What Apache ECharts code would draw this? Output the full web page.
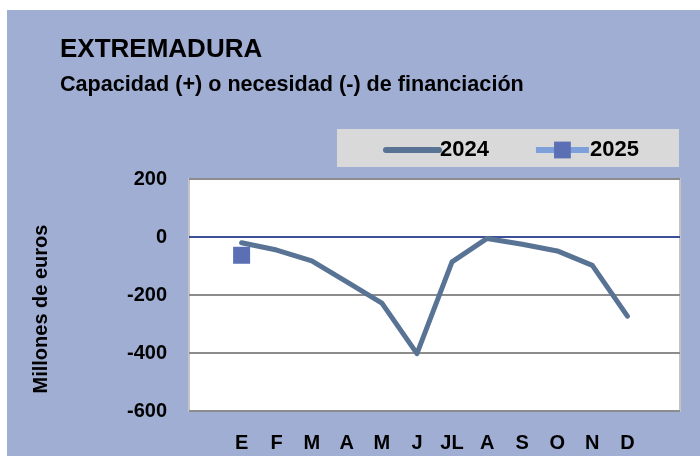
<!DOCTYPE html>
<html>
<head>
<meta charset="utf-8">
<script src="https://cdn.jsdelivr.net/npm/echarts@6/dist/echarts.min.js"></script>
<style>
  body { margin: 0; background: #fff; }
  #chart { position: absolute; left: 7px; top: 10px; width: 693px; height: 446px; background: #a0aed4; }
</style>
</head>
<body>
<div id="chart"></div>
<script>
// month labels, with an empty slot at each end like the original sheet
var months = ['', 'E', 'F', 'M', 'A', 'M', 'J', 'JL', 'A', 'S', 'O', 'N', 'D', ''];
var values2024 = [null, -20, -45, -82, -155, -228, -402, -86, -5, -25, -48, -98, -273, null];
var values2025 = [null, -63, null, null, null, null, null, null, null, null, null, null, null, null];
var yTicks = [-600, -400, -200, 0, 200];

var font = 'Liberation Sans';
var myChart = echarts.init(document.getElementById('chart'));

var option = {
    animation: false,
    textStyle: { fontFamily: font },
    title: [
        {
            text: 'EXTREMADURA',
            left: 53, top: 27, padding: 0,
            textStyle: { fontSize: 26, fontWeight: 'bold', color: '#000', fontFamily: font }
        },
        {
            text: 'Capacidad (+) o necesidad (-) de financiación',
            left: 53, top: 64, padding: 0,
            textStyle: { fontSize: 21.6, fontWeight: 'bold', color: '#000', fontFamily: font }
        }
    ],
    graphic: [
        {
            type: 'rect',
            shape: { x: 330, y: 119, width: 342, height: 38 },
            style: { fill: '#d9d9d9' },
            z: 0
        },
        {
            // y axis title
            type: 'text',
            x: 34, y: 299,
            rotation: Math.PI / 2,
            style: {
                text: 'Millones de euros',
                fontSize: 20, fontWeight: 'bold', fill: '#000', fontFamily: font,
                align: 'center', verticalAlign: 'middle'
            }
        }
    ],
    legend: {
        left: 371, top: 124,
        itemWidth: 53, itemHeight: 21,
        itemGap: 44,
        textStyle: { fontSize: 22, fontWeight: 'bold', color: '#000', fontFamily: font, padding: [0, 0, 0, -4] },
        data: [
            { name: '2024', itemStyle: { opacity: 0 }, lineStyle: { color: '#587394', width: 6 } },
            { name: '2025', itemStyle: { color: '#5b6fb5' }, lineStyle: { color: '#7ea0da', width: 6 } }
        ]
    },
    grid: {
        left: 182, top: 169, width: 491, height: 232,
        show: true, backgroundColor: '#fff',
        borderColor: '#c4c4c4', borderWidth: 2
    },
    xAxis: {
        type: 'category',
        data: months,
        boundaryGap: true,
        axisLine: { show: false },
        axisTick: { show: false },
        axisLabel: {
            interval: 0, margin: 22,
            fontSize: 20, fontWeight: 'bold', color: '#000', fontFamily: font
        }
    },
    yAxis: {
        type: 'value',
        min: yTicks[0], max: yTicks[yTicks.length - 1], interval: 200,
        axisLine: { show: false },
        axisTick: { show: false },
        axisLabel: { margin: 22, fontSize: 20, fontWeight: 'bold', color: '#000', fontFamily: font },
        splitLine: { lineStyle: { color: '#8c8c8c', width: 2 } }
    },
    series: [
        {
            name: '2024',
            type: 'line',
            data: values2024,
            symbol: 'none',
            lineStyle: { color: '#587394', width: 5, cap: 'round', join: 'round' },
            itemStyle: { color: '#587394' },
            markLine: {
                silent: true,
                symbol: 'none',
                label: { show: false },
                lineStyle: { color: '#3d4f96', type: 'solid', width: 2 },
                data: [{ yAxis: 0 }],
                z: 1
            },
            z: 3
        },
        {
            name: '2025',
            type: 'line',
            data: values2025,
            symbol: 'rect',
            symbolSize: 17,
            itemStyle: { color: '#5b6fb5' },
            lineStyle: { color: '#7ea0da', width: 5 },
            z: 4
        }
    ]
};
myChart.setOption(option);
</script>
</body>
</html>
